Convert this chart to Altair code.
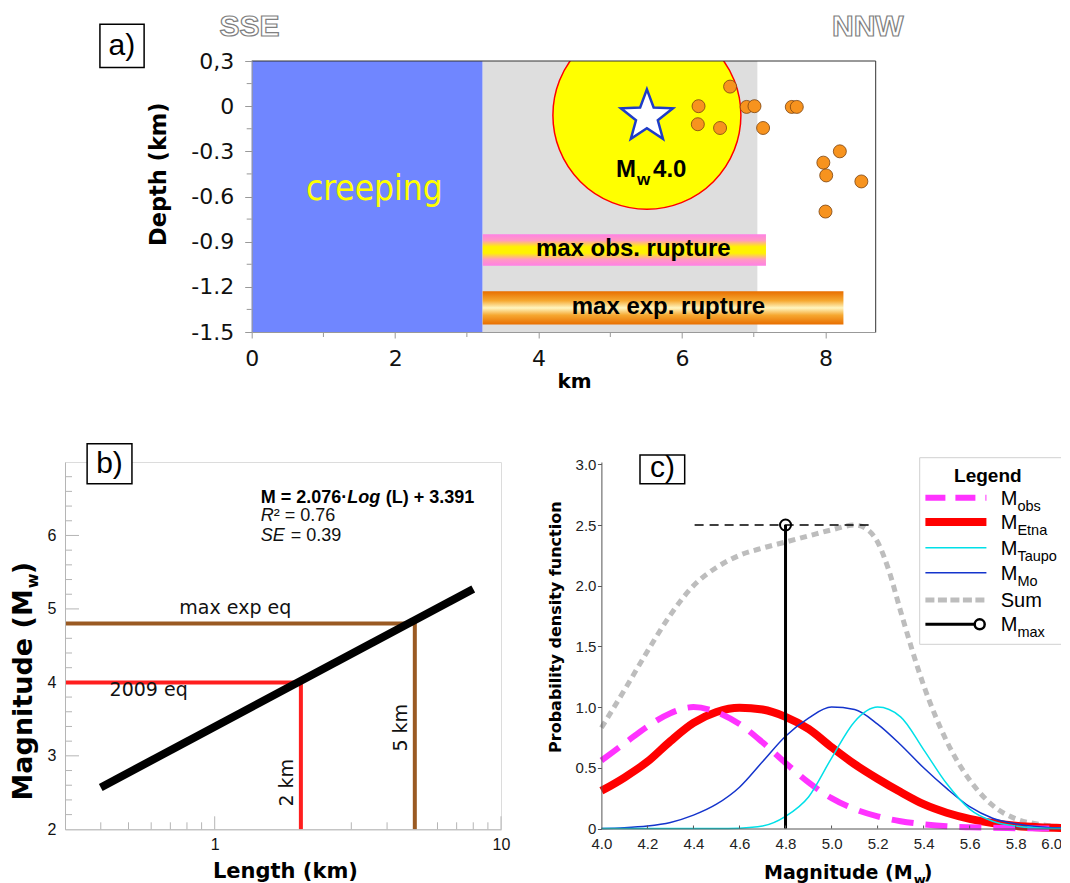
import math
import altair as alt
import pandas as pd

SANS = "Liberation Sans"
VERD = "DejaVu Sans"
COND = "DejaVu Sans Condensed, DejaVu Sans"

# ---------------- panel a data ----------------
quake_km = [6.67, 6.23, 6.22, 6.53, 6.90, 7.01, 7.13, 7.53, 7.60, 8.20, 7.97, 8.01, 8.50, 8.00]
quake_depth = [0.13, 0.0, -0.12, -0.145, -0.005, 0.0, -0.145, -0.005, -0.005, -0.30, -0.375, -0.46, -0.50, -0.70]
creeping_km = [0.0, 3.22]
locked_km = [3.22, 7.05]
depth_range = [-1.5, 0.3]
km_range = [0.0, 8.7]
mainshock_km = [5.51]
mainshock_depth = [-0.06]
epicentre_depth = [-0.07]
obs_rupture_km = [3.22, 7.17]
obs_rupture_depth = [-1.06, -0.85]
exp_rupture_km = [3.22, 8.25]
exp_rupture_depth = [-1.45, -1.23]
a_x_ticks = [0, 2, 4, 6, 8]
a_x_minor = [1, 3, 5, 7]
a_y_ticks = [0.3, 0.0, -0.3, -0.6, -0.9, -1.2, -1.5]
a_y_minor = [0.15, -0.15, -0.45, -0.75, -1.05, -1.35]

# ---------------- panel b data ----------------
fit_length = [0.4, 8.0]
fit_mag = [2.57, 5.27]
eq2009_length = [0.3, 2.0, 2.0]
eq2009_mag = [4.0, 4.0, 2.0]
maxexp_length = [0.3, 5.0, 5.0]
maxexp_mag = [4.8, 4.8, 2.0]
b_x_major = [1, 10]
b_x_minor = [0.4, 0.5, 0.6, 0.7, 0.8, 0.9, 2, 3, 4, 5, 6, 7, 8, 9]
b_y_major = [3, 4, 5, 6]
b_y_minor = [2.2, 2.4, 2.6, 2.8, 3.2, 3.4, 3.6, 3.8, 4.2, 4.4, 4.6, 4.8,
             5.2, 5.4, 5.6, 5.8, 6.2, 6.4, 6.6, 6.8]

# ---------------- panel c data ----------------
mag = [4.0, 4.1, 4.2, 4.3, 4.4, 4.5, 4.6, 4.7, 4.8, 4.9, 5.0,
       5.1, 5.2, 5.3, 5.4, 5.5, 5.6, 5.7, 5.8, 5.9, 6.0]
pdf_obs = [0.56, 0.70, 0.84, 0.95, 1.00, 0.96, 0.86, 0.71, 0.54, 0.38, 0.25,
           0.16, 0.10, 0.06, 0.035, 0.018, 0.010, 0.006, 0.003, 0.001, 0.0]
pdf_etna = [0.31, 0.42, 0.55, 0.72, 0.87, 0.96, 0.995, 0.98, 0.92, 0.82, 0.67,
            0.53, 0.41, 0.30, 0.20, 0.13, 0.08, 0.045, 0.022, 0.010, 0.005]
pdf_taupo = [0.0, 0.0, 0.0, 0.0, 0.0, 0.0, 0.003, 0.02, 0.10, 0.26, 0.58,
             0.88, 1.00, 0.92, 0.65, 0.37, 0.16, 0.06, 0.02, 0.005, 0.0]
pdf_mo = [0.0, 0.006, 0.02, 0.05, 0.11, 0.20, 0.34, 0.55, 0.76, 0.91, 1.00,
          0.98, 0.86, 0.69, 0.50, 0.33, 0.18, 0.085, 0.04, 0.015, 0.005]
sum_mag = [4.0, 4.1, 4.2, 4.3, 4.4, 4.5, 4.6, 4.7, 4.8, 4.9, 5.0, 5.1, 5.15,
           5.2, 5.25, 5.3, 5.4, 5.5, 5.6, 5.7, 5.8, 5.9, 6.0]
pdf_sum = [0.83, 1.14, 1.46, 1.76, 2.00, 2.15, 2.25, 2.31, 2.36, 2.41, 2.46, 2.50, 2.47,
           2.36, 2.12, 1.79, 1.18, 0.72, 0.40, 0.19, 0.08, 0.035, 0.015]
mmax_mag = 4.8
mmax_level = 2.5
mmax_span = [4.405, 5.167]
c_x_ticks = [4.0, 4.2, 4.4, 4.6, 4.8, 5.0, 5.2, 5.4, 5.6, 5.8, 6.0]
c_y_ticks = [0.0, 0.5, 1.0, 1.5, 2.0, 2.5, 3.0]
legend_main = ["M", "M", "M", "M", "Sum", "M"]
legend_sub = ["obs", "Etna", "Taupo", "Mo", "", "max"]


def df(**cols):
    return pd.DataFrame(cols)


def star_path(points=5, inner=0.42):
    pts = []
    for i in range(2 * points):
        r = 1.0 if i % 2 == 0 else inner
        ang = -math.pi / 2 + i * math.pi / points
        pts.append(f"{r * math.cos(ang):.4f},{r * math.sin(ang):.4f}")
    return "M" + "L".join(pts) + "Z"


def grad(stops):
    return alt.Gradient(gradient="linear",
                        stops=[alt.GradientStop(color=c, offset=o) for o, c in stops],
                        x1=0, x2=0, y1=0, y2=1)


# ====================== panel a ======================
sxa = alt.Scale(domain=km_range, nice=False, zero=False)
sya = alt.Scale(domain=depth_range, nice=False, zero=False)
axa_x = alt.Axis(values=a_x_ticks, format="d", title=None, grid=False, labelFlush=False,
                 labelFont=VERD, labelFontSize=22, labelColor="#111",
                 domainColor="#999", tickColor="#999", tickSize=6,
                 labelPadding=10, zindex=1)
axa_y = alt.Axis(values=a_y_ticks, title=None, grid=False,
                 labelExpr="datum.value > 0.2 ? '0,3' : (datum.value == 0 ? '0' : '-' + format(-datum.value, '.1f'))",
                 labelFont=VERD, labelFontSize=22, labelColor="#111",
                 domainColor="#999", tickColor="#999", tickSize=7,
                 labelPadding=11, zindex=1)


def XA():
    return alt.X("x:Q", scale=sxa, axis=axa_x)


def YA():
    return alt.Y("y:Q", scale=sya, axis=axa_y)


def text_a(x, y, t, **kw):
    return alt.Chart(df(x=x, y=y, t=t)).mark_text(**kw).encode(x=XA(), y=YA(), text="t:N")


a_regions = alt.Chart(df(x=[creeping_km[0], locked_km[0]], x2=[creeping_km[1], locked_km[1]],
                         y=[depth_range[0]] * 2, y2=[depth_range[1]] * 2,
                         c=["#7086FF", "#DEDEDE"])).mark_rect().encode(
    x=XA(), x2="x2:Q", y=YA(), y2="y2:Q", color=alt.Color("c:N", scale=None))

a_circle = alt.Chart(df(x=mainshock_km, y=mainshock_depth)).mark_circle(
    size=35344, color="#FFFF00", opacity=1, stroke="#FF0000", strokeWidth=1.5, clip=True
).encode(x=XA(), y=YA())

a_obs = alt.Chart(df(x=[obs_rupture_km[0]], x2=[obs_rupture_km[1]],
                     y=[obs_rupture_depth[0]], y2=[obs_rupture_depth[1]])).mark_rect(
    fill=grad([(0, "#FF80E6"), (0.2, "#FF9AC0"), (0.4, "#FFF200"), (0.6, "#FFF200"),
               (0.8, "#FF9AC0"), (1, "#FF80E6")])
).encode(x=XA(), x2="x2:Q", y=YA(), y2="y2:Q")

a_exp = alt.Chart(df(x=[exp_rupture_km[0]], x2=[exp_rupture_km[1]],
                     y=[exp_rupture_depth[0]], y2=[exp_rupture_depth[1]])).mark_rect(
    fill=grad([(0, "#E86E00"), (0.28, "#F6A830"), (0.5, "#FFF6C0"), (0.72, "#F6A830"),
               (1, "#E86E00")])
).encode(x=XA(), x2="x2:Q", y=YA(), y2="y2:Q")

a_rup_text = text_a([5.32, 5.81], [-0.95, -1.334], ["max obs. rupture", "max exp. rupture"],
                    font=SANS, fontWeight="bold", fontSize=24, color="black",
                    align="center", baseline="middle")

a_quakes = alt.Chart(df(x=quake_km, y=quake_depth)).mark_circle(
    size=169, color="#F7931E", opacity=1, stroke="#7A4310", strokeWidth=0.8
).encode(x=XA(), y=YA())

a_star = alt.Chart(df(x=mainshock_km, y=epicentre_depth)).mark_point(
    shape=star_path(), size=2990, filled=True, fill="white", stroke="#1E3CC8",
    strokeWidth=2.5, opacity=1
).encode(x=XA(), y=YA())

a_mw1 = text_a([5.08], [-0.47], ["M"], font=SANS, fontWeight="bold", fontSize=24,
               align="left", baseline="alphabetic", color="black")
a_mw2 = text_a([5.08], [-0.47], ["w"], font=SANS, fontWeight="bold", fontSize=17,
               align="left", baseline="alphabetic", color="black", dx=21, dy=8)
a_mw3 = text_a([5.08], [-0.47], ["4.0"], font=SANS, fontWeight="bold", fontSize=24,
               align="left", baseline="alphabetic", color="black", dx=37)

a_creep = text_a([1.71], [-0.625], ["creeping"], font=COND, fontSize=35, color="#FFFF00",
                 align="center", baseline="alphabetic")

a_border = alt.Chart(df(x=[km_range[0], km_range[1]], x2=[km_range[1], km_range[1]],
                        y=[depth_range[1], depth_range[0]], y2=[depth_range[1], depth_range[1]])).mark_rule(
    color="#333", strokeWidth=1).encode(x=XA(), x2="x2:Q", y=YA(), y2="y2:Q")

a_minor_y = alt.Chart(df(y=a_y_minor, x=[km_range[0]] * len(a_y_minor))).mark_rule(
    color="#999", x2Offset=-5).encode(x=XA(), x2="x:Q", y=YA())
a_minor_x = alt.Chart(df(x=a_x_minor, y=[depth_range[0]] * len(a_x_minor))).mark_rule(
    color="#999", y2Offset=5).encode(x=XA(), y=YA(), y2="y:Q")

a_dir = text_a([-0.03, 8.59], [0.466, 0.466], ["SSE", "NNW"], font=SANS, fontWeight="bold",
               fontSize=30, fill="white", stroke="#808080", strokeWidth=1.2,
               align="center", baseline="alphabetic")

a_box = alt.Chart(df(x=[-2.116], x2=[-1.50], y=[0.256], y2=[0.544])).mark_rect(
    fill="white", stroke="black", strokeWidth=1.5).encode(x=XA(), x2="x2:Q", y=YA(), y2="y2:Q")
a_lab = text_a([-1.81], [0.40], ["a)"], font=SANS, fontSize=30, color="black",
               align="center", baseline="middle")

a_xt = text_a([4.5], [-1.871], ["km"], font=VERD, fontWeight="bold", fontSize=20, color="black",
              align="center", baseline="alphabetic")
a_yt = text_a([-1.19], [-0.452], ["Depth (km)"], font=VERD, fontWeight="bold", fontSize=22.5,
              color="black", align="center", baseline="alphabetic", angle=270)

pa = alt.layer(a_regions, a_circle, a_obs, a_exp, a_rup_text, a_quakes, a_star,
               a_mw1, a_mw2, a_mw3, a_creep, a_border, a_minor_y, a_minor_x,
               a_dir, a_box, a_lab, a_xt, a_yt).properties(
    width=624, height=271, view=alt.ViewBackground(stroke="transparent"))

# ====================== panel b ======================
sxb = alt.Scale(type="log", domain=[0.3, 10], nice=False)
syb = alt.Scale(domain=[2, 7], nice=False, zero=False)
axb_x = alt.Axis(values=b_x_major, format="d", title=None, grid=False, ticks=False, tickSize=0,
                 labelFlush=False, labelFont=SANS, labelFontSize=16, labelColor="#111",
                 labelPadding=7, domainColor="#b5b5b5", zindex=1)
axb_y = alt.Axis(values=[2, 3, 4, 5, 6], format="d", title=None, grid=False, ticks=False, tickSize=0,
                 labelFont=SANS, labelFontSize=16, labelColor="#111", labelPadding=9,
                 domainColor="#b5b5b5", zindex=1)


def XB():
    return alt.X("x:Q", scale=sxb, axis=axb_x)


def YB():
    return alt.Y("y:Q", scale=syb, axis=axb_y)


def text_b(x, y, t, **kw):
    return alt.Chart(df(x=x, y=y, t=t)).mark_text(**kw).encode(x=XB(), y=YB(), text="t:N")


b_ymaj = alt.Chart(df(y=b_y_major, x=[0.3] * len(b_y_major))).mark_rule(
    color="#b5b5b5", x2Offset=14).encode(x=XB(), x2="x:Q", y=YB())
b_ymin = alt.Chart(df(y=b_y_minor, x=[0.3] * len(b_y_minor))).mark_rule(
    color="#b5b5b5", x2Offset=7).encode(x=XB(), x2="x:Q", y=YB())
b_xmaj = alt.Chart(df(x=b_x_major, y=[2] * len(b_x_major))).mark_rule(
    color="#b5b5b5", y2Offset=-13).encode(x=XB(), y=YB(), y2="y:Q")
b_xmin = alt.Chart(df(x=b_x_minor, y=[2] * len(b_x_minor))).mark_rule(
    color="#b5b5b5", y2Offset=-7).encode(x=XB(), y=YB(), y2="y:Q")

b_red = alt.Chart(df(x=eq2009_length, y=eq2009_mag, o=[0, 1, 2])).mark_line(
    color="#FF1E1E", strokeWidth=4, strokeJoin="miter").encode(x=XB(), y=YB(), order="o:Q")
b_brown = alt.Chart(df(x=maxexp_length, y=maxexp_mag, o=[0, 1, 2])).mark_line(
    color="#9A5A22", strokeWidth=4, strokeJoin="miter").encode(x=XB(), y=YB(), order="o:Q")
b_fit = alt.Chart(df(x=fit_length, y=fit_mag)).mark_line(
    color="black", strokeWidth=8, strokeCap="butt").encode(x=XB(), y=YB())

b_txt = text_b([1.18, 0.588], [4.927, 3.815], ["max exp eq", "2009 eq"], font=VERD, fontSize=19,
               color="#111", align="center", baseline="alphabetic")
b_km = text_b([1.878, 4.677], [2.634, 3.383], ["2 km", "5 km"], font=VERD, fontSize=19,
              color="#111", align="center", baseline="alphabetic", angle=270)

b_eq1 = text_b([1.447], [6.438], ["M = 2.076·"], font=SANS, fontWeight="bold", fontSize=18,
               align="left", baseline="alphabetic", color="black")
b_eq2 = text_b([1.447], [6.438], ["Log"], font=SANS, fontWeight="bold", fontStyle="italic",
               fontSize=18, align="left", baseline="alphabetic", color="black", dx=86.5)
b_eq3 = text_b([1.447], [6.438], ["(L) + 3.391"], font=SANS, fontWeight="bold", fontSize=18,
               align="left", baseline="alphabetic", color="black", dx=125)
b_st1 = text_b([1.447, 1.447], [6.197, 5.925], ["R", "SE"], font=SANS, fontStyle="italic",
               fontSize=18, align="left", baseline="alphabetic", color="#111")
b_st2 = text_b([1.447], [6.197], ["² = 0.76"], font=SANS, fontSize=18, align="left",
               baseline="alphabetic", color="#111", dx=13)
b_st3 = text_b([1.447], [5.925], ["= 0.39"], font=SANS, fontSize=18, align="left",
               baseline="alphabetic", color="#111", dx=30)

b_box = alt.Chart(df(x=[0.3584], x2=[0.514], y=[6.705], y2=[7.249])).mark_rect(
    fill="white", stroke="black", strokeWidth=1.5).encode(x=XB(), x2="x2:Q", y=YB(), y2="y2:Q")
b_lab = text_b([0.429], [6.977], ["b)"], font=SANS, fontSize=30, color="black",
               align="center", baseline="middle")

b_xt = text_b([1.766], [1.341], ["Length (km)"], font=VERD, fontWeight="bold", fontSize=21,
              color="black", align="center", baseline="alphabetic")
b_yt1 = text_b([0.2302], [5.268], ["Magnitude (M"], font=VERD, fontWeight="bold", fontSize=27,
               color="black", align="right", baseline="alphabetic", angle=270)
b_yt2 = text_b([0.2302], [5.268], ["w"], font=VERD, fontWeight="bold", fontSize=16,
               color="black", align="left", baseline="alphabetic", angle=270, dx=1, dy=6)
b_yt3 = text_b([0.2302], [5.268], [")"], font=VERD, fontWeight="bold", fontSize=27,
               color="black", align="left", baseline="alphabetic", angle=270, dx=15)

pb = alt.layer(b_ymaj, b_ymin, b_xmaj, b_xmin, b_red, b_brown, b_fit, b_txt, b_km,
               b_eq1, b_eq2, b_eq3, b_st1, b_st2, b_st3, b_box, b_lab, b_xt,
               b_yt1, b_yt2, b_yt3).properties(
    width=436, height=367.3, view=alt.ViewBackground(stroke="#dcdcdc"))

# ====================== panel c ======================
sxc = alt.Scale(domain=[4, 6], nice=False, zero=False)
syc = alt.Scale(domain=[0, 3.019], nice=False, zero=False)
axc_x = alt.Axis(values=c_x_ticks, format=".1f", title=None, grid=False, ticks=False, tickSize=0,
                 labelFlush=False, labelFont=SANS, labelFontSize=15, labelColor="#222",
                 labelPadding=8,
                 labelAlign={"condition": {"test": "datum.value >= 5.99", "value": "right"},
                             "value": "center"},
                 domainColor="#555", zindex=1)
axc_y = alt.Axis(values=c_y_ticks, title=None, grid=False, tickSize=4, tickColor="#555",
                 labelExpr="datum.value == 0 ? '0' : format(datum.value, '.1f')",
                 labelFont=SANS, labelFontSize=15, labelColor="#222", labelPadding=1.5,
                 domainColor="#555", zindex=1)


def XC():
    return alt.X("x:Q", scale=sxc, axis=axc_x)


def YC():
    return alt.Y("y:Q", scale=syc, axis=axc_y)


def text_c(x, y, t, **kw):
    return alt.Chart(df(x=x, y=y, t=t)).mark_text(**kw).encode(x=XC(), y=YC(), text="t:N")


c_sum = alt.Chart(df(x=sum_mag, y=pdf_sum)).mark_line(
    color="#BDBDBD", strokeWidth=5, strokeDash=[7, 5], interpolate="monotone"
).encode(x=XC(), y=YC())
c_etna = alt.Chart(df(x=mag, y=pdf_etna)).mark_line(
    color="#FF0000", strokeWidth=8, interpolate="monotone").encode(x=XC(), y=YC())
c_obs = alt.Chart(df(x=mag, y=pdf_obs)).mark_line(
    color="#FF33FF", strokeWidth=6, strokeDash=[22, 12], interpolate="monotone"
).encode(x=XC(), y=YC())
c_mo = alt.Chart(df(x=mag, y=pdf_mo)).mark_line(
    color="#1434CC", strokeWidth=1.5, interpolate="monotone").encode(x=XC(), y=YC())
c_taupo = alt.Chart(df(x=mag, y=pdf_taupo)).mark_line(
    color="#00E0E8", strokeWidth=1.5, interpolate="monotone").encode(x=XC(), y=YC())

c_mdash = alt.Chart(df(x=[mmax_span[0]], x2=[mmax_span[1]], y=[mmax_level])).mark_rule(
    color="black", strokeWidth=1.5, strokeDash=[9, 6]).encode(x=XC(), x2="x2:Q", y=YC())
c_mline = alt.Chart(df(x=[mmax_mag], y=[0.0], y2=[mmax_level])).mark_rule(
    color="black", strokeWidth=3).encode(x=XC(), y=YC(), y2="y2:Q")
c_mpt = alt.Chart(df(x=[mmax_mag], y=[mmax_level])).mark_point(
    shape="circle", size=121, filled=False, color="black", strokeWidth=2, opacity=1
).encode(x=XC(), y=YC())

c_xtick = alt.Chart(df(x=c_x_ticks[1:-1], y=[0.0] * (len(c_x_ticks) - 2))).mark_rule(
    color="#555", y2Offset=-3).encode(x=XC(), y=YC(), y2="y:Q")

# legend (drawn as marks)
lg_rows = [2.7249, 2.5247, 2.3130, 2.1071, 1.8822, 1.6820]
lg_x0, lg_x1, lg_tx, lg_pt = 5.4078, 5.6729, 5.735, 5.6437
c_lbox = alt.Chart(df(x=[5.383], x2=[6.0], y=[1.5173], y2=[3.0544])).mark_rect(
    fill="white", stroke="#d0d0d0", strokeWidth=1).encode(x=XC(), x2="x2:Q", y=YC(), y2="y2:Q")
c_ltitle = text_c([5.679], [2.8567], ["Legend"], font=SANS, fontWeight="bold", fontSize=19,
                  color="black", align="center", baseline="alphabetic")
lg_styles = [
    dict(color="#FF33FF", strokeWidth=6, strokeDash=[20, 10]),
    dict(color="#FF0000", strokeWidth=8),
    dict(color="#00E0E8", strokeWidth=1.5),
    dict(color="#1434CC", strokeWidth=1.5),
    dict(color="#BDBDBD", strokeWidth=5, strokeDash=[9, 3.5]),
    dict(color="black", strokeWidth=3),
]
c_llines = []
for i, st in enumerate(lg_styles):
    x_end = lg_pt if i == 5 else lg_x1
    c_llines.append(alt.Chart(df(x=[lg_x0], x2=[x_end], y=[lg_rows[i]])).mark_rule(**st).encode(
        x=XC(), x2="x2:Q", y=YC()))
c_lpt = alt.Chart(df(x=[lg_pt], y=[lg_rows[5]])).mark_point(
    shape="circle", size=100, filled=True, fill="white", stroke="black", strokeWidth=2.5, opacity=1
).encode(x=XC(), y=YC())
lg_text_y = [r - 0.0577 for r in lg_rows]
c_lmain = text_c([lg_tx] * 6, lg_text_y, legend_main, font=SANS, fontSize=20, color="black",
                 align="left", baseline="alphabetic")
c_lsub = text_c([lg_tx] * 6, lg_text_y, legend_sub, font=SANS, fontSize=14.5, color="black",
                align="left", baseline="alphabetic", dx=16.7, dy=6)

c_box = alt.Chart(df(x=[4.1677], x2=[4.3619], y=[2.84], y2=[3.077])).mark_rect(
    fill="white", stroke="black", strokeWidth=1.5).encode(x=XC(), x2="x2:Q", y=YC(), y2="y2:Q")
c_lab = text_c([4.265], [2.97], ["c)"], font=SANS, fontSize=30, color="black",
               align="center", baseline="middle")

c_yt = text_c([3.826], [1.658], ["Probability density function"], font=VERD, fontWeight="bold",
              fontSize=16, color="black", align="center", baseline="alphabetic", angle=270)
c_xt1 = text_c([5.3526], [-0.418], ["Magnitude (M"], font=VERD, fontWeight="bold", fontSize=19,
               color="black", align="right", baseline="alphabetic")
c_xt2 = text_c([5.3526], [-0.418], ["w"], font=VERD, fontWeight="bold", fontSize=13,
               color="black", align="left", baseline="alphabetic", dx=1, dy=5)
c_xt3 = text_c([5.3526], [-0.418], [")"], font=VERD, fontWeight="bold", fontSize=19,
               color="black", align="left", baseline="alphabetic", dx=11)

pc = alt.layer(c_sum, c_etna, c_obs, c_mo, c_taupo, c_mdash, c_mline, c_mpt, c_xtick,
               c_lbox, c_ltitle, *c_llines, c_lpt, c_lmain, c_lsub, c_box, c_lab,
               c_yt, c_xt1, c_xt2, c_xt3).properties(
    width=460.3, height=366.5, view=alt.ViewBackground(stroke="transparent"))

# ====================== layout ======================
spacer = alt.Chart(df(x=[0.0])).mark_point(opacity=0).encode(
    x=alt.X("x:Q", axis=None, scale=alt.Scale(domain=[0, 1])),
    y=alt.Y("x:Q", axis=None, scale=alt.Scale(domain=[0, 1]))
).properties(width=1, height=271, view=alt.ViewBackground(stroke="transparent"))

top_row = alt.hconcat(spacer, pa, spacing=185.7, bounds="flush")
bottom_row = alt.hconcat(pb, pc, spacing=100.4, bounds="flush")
chart = alt.vconcat(top_row, bottom_row, spacing=401, bounds="flush").properties(
    padding={"left": 1, "top": 3, "right": -18, "bottom": 0}, background="white")

chart.save("out.html", embed_options={"renderer": "svg", "actions": False})
